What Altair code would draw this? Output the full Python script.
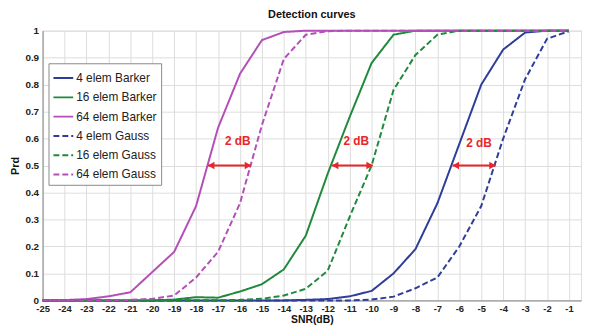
import altair as alt
import pandas as pd

snr = list(range(-25, 0))

b4 = [0, 0, 0, 0, 0, 0, 0, 0, 0, 0, 0, 0, 0.002, 0.005, 0.015, 0.035, 0.10, 0.19, 0.36, 0.58, 0.80, 0.93, 0.993, 1, 1]
b16 = [0, 0, 0, 0, 0, 0, 0.003, 0.012, 0.01, 0.033, 0.06, 0.115, 0.24, 0.47, 0.68, 0.88, 0.985, 1, 1, 1, 1, 1, 1, 1, 1]
b64 = [0, 0.001, 0.005, 0.015, 0.03, 0.105, 0.18, 0.35, 0.64, 0.84, 0.965, 0.995, 1, 1, 1, 1, 1, 1, 1, 1, 1, 1, 1, 1, 1]
g4 = [0, 0, 0, 0, 0, 0, 0, 0, 0, 0, 0, 0, 0, 0, 0, 0.003, 0.014, 0.045, 0.085, 0.20, 0.35, 0.60, 0.82, 0.97, 0.998]
g16 = [0, 0, 0, 0, 0, 0, 0, 0, 0, 0.002, 0.006, 0.018, 0.043, 0.11, 0.31, 0.50, 0.78, 0.91, 0.985, 1, 1, 1, 1, 1, 1]
g64 = [0, 0, 0, 0, 0.002, 0.006, 0.018, 0.085, 0.18, 0.36, 0.65, 0.895, 0.985, 0.998, 1, 1, 1, 1, 1, 1, 1, 1, 1, 1, 1]

y_ticks = [0, 0.1, 0.2, 0.3, 0.4, 0.5, 0.6, 0.7, 0.8, 0.9, 1]

series_names = ["4 elem Barker", "16 elem Barker", "64 elem Barker",
                "4 elem Gauss", "16 elem Gauss", "64 elem Gauss"]
series_vals = [b4, b16, b64, g4, g16, g64]
series_colors = ["#2e3d98", "#1f8a3c", "#b44fb8", "#2e3d98", "#1f8a3c", "#b44fb8"]
series_dash = [[1, 0], [1, 0], [1, 0], [6, 3], [6, 3], [6, 3]]

arrow_x1 = [-17.45, -11.8, -6.3]
arrow_x2 = [-15.5, -9.95, -4.35]
arrow_y = [0.5, 0.5, 0.5]
label_x = [-16.1, -10.7, -5.1]
label_y = [0.59, 0.59, 0.585]
label_text = ["2 dB", "2 dB", "2 dB"]

rows = []
for name, vals in zip(series_names, series_vals):
    for x, y in zip(snr, vals):
        rows.append({"snr": x, "prd": y, "series": name})
df = pd.DataFrame(rows)

arrows = pd.DataFrame({"x1": arrow_x1, "x2": arrow_x2, "y": arrow_y})
labels = pd.DataFrame({"x": label_x, "y": label_y, "t": label_text})

RED = "#e8262b"
FONT = "Liberation Sans"

xscale = alt.Scale(domain=[-25, -0.45], nice=False, zero=False)
yscale = alt.Scale(domain=[0, 1], nice=False)

xaxis = alt.Axis(values=snr, title="SNR(dB)", grid=True, ticks=False, labelOverlap=False,
                 labelFlush=False, labelExpr="toString(datum.value)",
                 labelFont=FONT, labelFontSize=9.5, labelFontWeight="bold",
                 titleFont=FONT, titleFontSize=10.5, titleFontWeight="bold",
                 labelPadding=3, titlePadding=2, domain=True, domainColor="#888",
                 gridColor="#dcdcdc", labelColor="#222", titleColor="#111")
yaxis = alt.Axis(values=y_ticks, labelExpr="toString(datum.value)", title="Prd",
                 grid=True, ticks=False, labelOverlap=False, labelFlush=False,
                 labelFont=FONT, labelFontSize=10,
                 labelFontWeight="bold", titleFont=FONT, titleFontSize=11,
                 titleFontWeight="bold", labelPadding=4, titlePadding=4,
                 domain=True, domainColor="#888", gridColor="#dcdcdc",
                 labelColor="#222", titleColor="#111")


def X(f):
    return alt.X(f, type="quantitative", scale=xscale, axis=xaxis)


def Y(f):
    return alt.Y(f, type="quantitative", scale=yscale, axis=yaxis)


leg = alt.Legend(title=None, orient="none", legendX=6, legendY=33,
                 symbolType="stroke", symbolSize=400,
                 symbolStrokeWidth=2, labelFont=FONT,
                 labelFontSize=12, labelColor="#222",
                 rowPadding=2.5, padding=4,
                 fillColor="white", strokeColor="#888",
                 labelOffset=2)

lines = alt.Chart(df).mark_line(strokeWidth=2).encode(
    x=X("snr"),
    y=Y("prd"),
    color=alt.Color("series:N", scale=alt.Scale(domain=series_names, range=series_colors),
                    legend=leg),
    strokeDash=alt.StrokeDash("series:N", scale=alt.Scale(domain=series_names, range=series_dash),
                              legend=leg),
    detail="series:N",
)

rules = alt.Chart(arrows).mark_rule(color=RED, strokeWidth=2).encode(
    x=X("x1"), x2="x2:Q", y=Y("y"))
left_heads = alt.Chart(arrows).mark_point(shape="triangle-left", filled=True, color=RED,
                                          size=60, opacity=1, xOffset=3).encode(x=X("x1"), y=Y("y"))
right_heads = alt.Chart(arrows).mark_point(shape="triangle-right", filled=True, color=RED,
                                           size=60, opacity=1, xOffset=-3).encode(x=X("x2"), y=Y("y"))
texts = alt.Chart(labels).mark_text(color=RED, font=FONT, fontSize=12, fontWeight="bold").encode(
    x=X("x"), y=Y("y"), text="t:N")

chart = alt.layer(lines, rules, left_heads, right_heads, texts).properties(
    width=545, height=273,
    autosize=alt.AutoSizeParams(type="none"),
    padding={"left": 35, "top": 21, "right": 4, "bottom": 27},
    title=alt.Title("Detection curves", font=FONT, fontSize=11, fontWeight="bold",
                    color="#111", offset=6, anchor="middle"),
).configure_view(stroke="#bbbbbb").configure(background="white")

chart.save("out.html", embed_options={"renderer": "svg", "actions": False})
